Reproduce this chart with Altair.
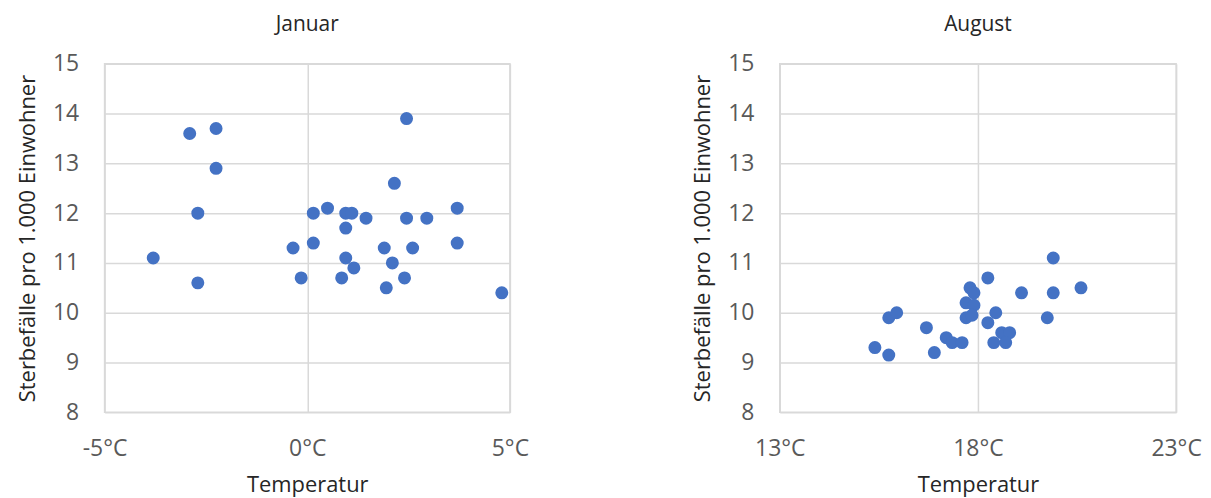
import altair as alt
import pandas as pd

# Januar
jan_temp = [-3.8, -2.9, -2.25, -2.25, -2.7, -2.7, -0.35, -0.15, 0.15, 0.15, 0.5, 0.95, 1.1, 0.95,
            0.85, 0.95, 1.15, 1.45, 1.9, 1.95, 2.1, 2.15, 2.45, 2.45, 2.4, 2.6, 2.95, 3.7, 3.7, 4.8]
jan_rate = [11.1, 13.6, 13.7, 12.9, 12.0, 10.6, 11.3, 10.7, 12.0, 11.4, 12.1, 12.0, 12.0, 11.7,
            10.7, 11.1, 10.9, 11.9, 11.3, 10.5, 11.0, 12.6, 13.9, 11.9, 10.7, 11.3, 11.9, 12.1, 11.4, 10.4]

# August
aug_temp = [15.4, 15.75, 15.75, 15.95, 16.7, 16.9, 17.2, 17.35, 17.6, 17.7, 17.7, 17.8, 17.9, 17.9,
            17.85, 18.25, 18.25, 18.45, 18.4, 18.6, 18.8, 18.7, 19.1, 19.75, 19.9, 19.9, 20.6]
aug_rate = [9.3, 9.15, 9.9, 10.0, 9.7, 9.2, 9.5, 9.4, 9.4, 9.9, 10.2, 10.5, 10.4, 10.15,
            9.95, 10.7, 9.8, 10.0, 9.4, 9.6, 9.6, 9.4, 10.4, 9.9, 11.1, 10.4, 10.5]

jan_ticks = [-5, 0, 5]
aug_ticks = [13, 18, 23]
y_ticks = [8, 9, 10, 11, 12, 13, 14, 15]

FONT = "Open Sans"
BLUE = "#4472C4"


def panel(temps, rates, ticks, title, width):
    df = pd.DataFrame({"t": temps, "r": rates})
    return alt.Chart(df, title=alt.TitleParams(title, fontSize=21, font=FONT, fontWeight="normal",
                                                color="#262626", offset=18)).mark_circle(
        size=170, color=BLUE, opacity=1
    ).encode(
        x=alt.X("t:Q", title="Temperatur",
                scale=alt.Scale(domain=[ticks[0], ticks[-1]], nice=False, zero=False),
                axis=alt.Axis(values=ticks, labelExpr="datum.value + '°C'", grid=True,
                              gridColor="#d9d9d9", gridWidth=1.5, domain=False, ticks=False,
                              labelFlush=False,
                              labelPadding=25, labelFontSize=23, labelColor="#595959", labelFont=FONT,
                              titleFontSize=22, titleFont=FONT, titleFontWeight="normal",
                              titleColor="#262626", titlePadding=14)),
        y=alt.Y("r:Q", title="Sterbefälle pro 1.000 Einwohner",
                scale=alt.Scale(domain=[8, 15], nice=False, zero=False),
                axis=alt.Axis(values=y_ticks, grid=True, gridColor="#d9d9d9", gridWidth=1.5,
                              domain=False, ticks=False, labelPadding=26, labelFontSize=23,
                              labelColor="#595959", labelFont=FONT, titleFontSize=22, titleFont=FONT,
                              titleFontWeight="normal", titleColor="#262626", titlePadding=13)),
    ).properties(width=width, height=350)


left = panel(jan_temp, jan_rate, jan_ticks, "Januar", 407)
right = panel(aug_temp, aug_rate, aug_ticks, "August", 398)

chart = alt.hconcat(left, right, spacing=161).properties(
    padding={"left": 7, "top": 4, "right": 0, "bottom": 0}
).configure_view(stroke="#d9d9d9", strokeWidth=1.5)

chart.save("out.html", embed_options={"renderer": "svg", "actions": False})
